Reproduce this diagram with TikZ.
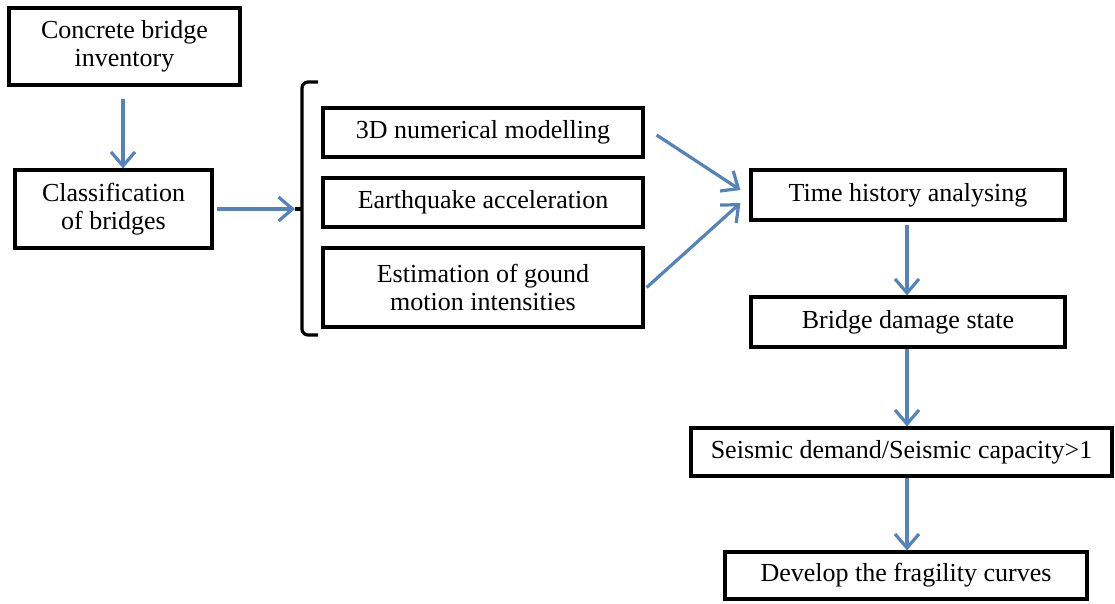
\documentclass[tikz,border=0pt]{standalone}
\usepackage{fontspec}
\setmainfont{Liberation Serif}
\usepackage{xcolor}
\usetikzlibrary{arrows.meta}
\definecolor{flowblue}{RGB}{84,130,186}

\begin{document}
\begin{tikzpicture}[x=1pt, y=-1pt,
    procbox/.style={draw, rectangle, line width=3.2pt, inner sep=0pt, align=center,
        font=\fontsize{26}{28}\selectfont},
    flow/.style={draw=flowblue, line width=3.2pt, -{Straight Barb[length=14pt,width=24pt,line width=3.2pt]}}]
    \useasboundingbox (0,0) rectangle (1115,603);

    \node [procbox, minimum width=231pt, minimum height=77pt] (inventory) at (124.5,46.5) {Concrete bridge\\inventory};
    \node [procbox, minimum width=197pt, minimum height=78pt] (classify) at (113.5,209) {Classification\\of bridges};
    \node [procbox, minimum width=320pt, minimum height=49pt] (modelling) at (483,132.5) {3D numerical modelling};
    \node [procbox, minimum width=320pt, minimum height=49pt] (accel) at (483,202.5) {Earthquake acceleration};
    \node [procbox, minimum width=320pt, minimum height=79pt] (intensity) at (483,287.5) {Estimation of gound\\motion intensities};
    \node [procbox, minimum width=314pt, minimum height=50pt] (history) at (908,195) {Time history analysing};
    \node [procbox, minimum width=314pt, minimum height=50pt] (damage) at (908,322) {Bridge damage state};
    \node [procbox, minimum width=421pt, minimum height=48pt] (demand) at (901.5,452) {Seismic demand/Seismic capacity>1};
    \node [procbox, minimum width=362pt, minimum height=47pt] (fragility) at (906,575.5) {Develop the fragility curves};

    % bracket round the three inputs
    \coordinate (brace) at (295,209);
    \draw [line width=3.2pt, rounded corners=6pt] (318,82) -- (302,82) -- (302,335) -- (318,335);
    \draw [line width=3.2pt] (brace) -- (302,209);

    \draw [flow] ([xshift=-1.5pt, yshift=-12pt]inventory.south) -- ([xshift=-1.5pt]classify.north -| inventory.south);
    \draw [flow] ([xshift=3pt]classify.east) -- (brace);
    \draw [flow] ([xshift=12pt, yshift=-2.5pt]modelling.east) -- ([xshift=-9pt, yshift=5pt]history.west);
    \draw [flow] ([xshift=2pt]intensity.east) -- ([xshift=-9pt, yshift=-8pt]history.west);
    \draw [flow] ([xshift=-1pt, yshift=-3pt]history.south) -- ([xshift=-1pt]damage.north);
    \draw [flow] ([xshift=-1pt]damage.south) -- ([xshift=-1pt]damage.south |- demand.north);
    \draw [flow] ([xshift=-1pt]damage.south |- demand.south) -- ([xshift=-1pt]damage.south |- fragility.north);
\end{tikzpicture}
\end{document}
